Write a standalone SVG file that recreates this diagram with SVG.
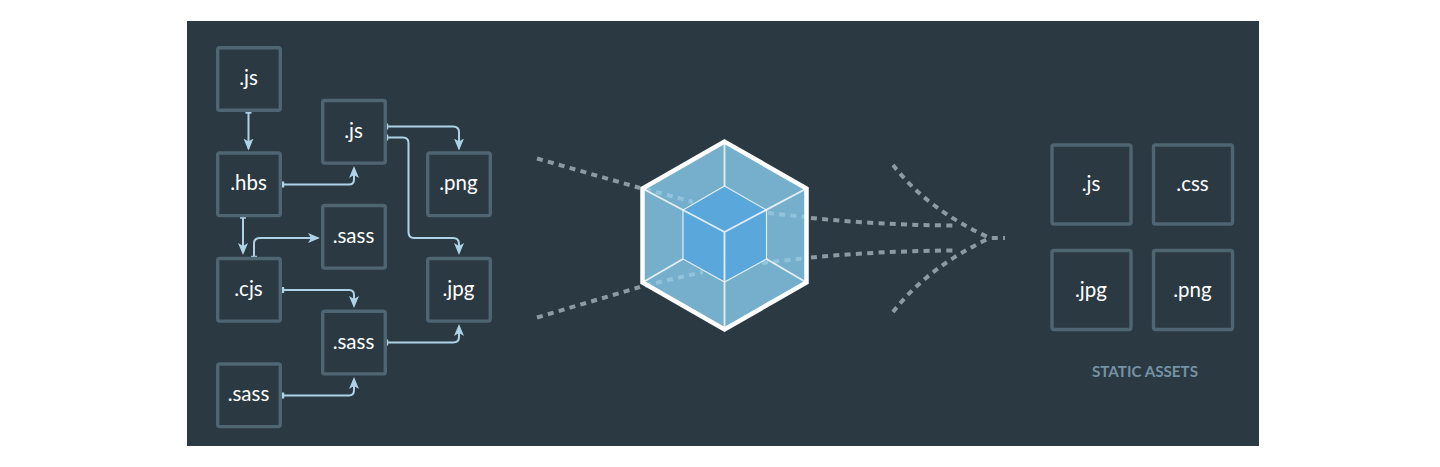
<svg xmlns="http://www.w3.org/2000/svg" width="1440" height="467" viewBox="0 0 1440 467">
<style>
.b{fill:none;stroke:#4f6572;stroke-width:3.4}
.t{fill:#fff;font-family:Lato,"Open Sans",sans-serif;font-size:20.500px;text-anchor:middle}
.c{fill:none;stroke:#afd3e6;stroke-width:2;marker-start:url(#bar);marker-end:url(#arr)}
.d{fill:none;stroke:#8b9ba2;stroke-width:4;stroke-dasharray:6 5.300}
.i{fill:none;stroke:#a8d5ea;stroke-opacity:.55;stroke-width:4;stroke-dasharray:6 5.300}
.e{fill:none;stroke:#fff;stroke-opacity:.8;stroke-width:1.800}
</style>
<defs>
<marker id="arr" markerUnits="userSpaceOnUse" markerWidth="14" markerHeight="12" refX="10" refY="5.500" orient="auto"><path d="M0 0.500L12 5.500L0 10.500L3 5.500Z" fill="#afd3e6"/></marker>
<marker id="bar" markerUnits="userSpaceOnUse" markerWidth="4" markerHeight="8" refX="1" refY="3.500" orient="auto"><rect x="0" y="0.500" width="2.200" height="6" fill="#afd3e6"/></marker>
</defs>
<rect width="1440" height="467" fill="#fff"/>
<rect x="187" y="21" width="1072" height="425" fill="#2b3a42"/>
<g id="connectors">
<path class="c" d="M248.500 112.500V148.500"/>
<path class="c" d="M283 184.500H349Q354 184.500 354 179.500V168"/>
<path class="c" d="M243 217.500V253"/>
<path class="c" d="M387 126.500H453Q459 126.500 459 132V148.500"/>
<path class="c" d="M387 137.500H403Q408.500 137.500 408.500 143V232Q408.500 238 414 238H453Q459 238 459 244V253"/>
<path class="c" d="M254 257V243.500Q254 238 260 238H318"/>
<path class="c" d="M283 290H349Q354 290 354 295V306"/>
<path class="c" d="M283 395.500H349Q354 395.500 354 390V379"/>
<path class="c" d="M387 342.500H453Q459 342.500 459 337V326"/>
</g>
<g id="flow-lines">
<path class="d" d="M537 158.500L640 188"/>
<path class="d" d="M537 317.500L640 287"/>
<path class="d" d="M893 165Q928 210 990 238H1005"/>
<path class="d" d="M893 312Q928 267 990 238"/>
<path class="d" d="M811 218Q880 225 953 225.500"/>
<path class="d" d="M811 257.500Q880 251 953 250.500"/>
</g>
<g id="cube">
<path d="M724.500 141.600L806.500 188.500V282.500L724.500 329.400L642.500 282.500V188.500Z" fill="#75afcc"/>
<path d="M724.500 186L766.500 210V259L724.500 282L683 259V210Z" fill="#5aa7dc"/>
<path class="i" d="M645 189L693 202M645 285.500L703 272M768 213L806 217M762 263L806 258"/>
<path d="M724.500 141.600L806.500 188.500V282.500L724.500 329.400L642.500 282.500V188.500Z" fill="none" stroke="#fff" stroke-width="4.500"/>
<path class="e" d="M724.500 141.600V186M806.500 188.500L724.500 232L642.500 188.500M724.500 232V329.400M642.500 282.500L683 259M806.500 282.500L766.500 259"/>
<path class="e" style="stroke-width:1.200" d="M724.500 186L766.500 210V259L724.500 282L683 259V210Z"/>
</g>
<g id="n1"><rect class="b" x="217.700" y="47.700" width="62.600" height="62.600" rx="2"/><text class="t" x="248.500" y="85">.js</text></g>
<g id="n2"><rect class="b" x="217.700" y="153" width="62.600" height="62.600" rx="2"/><text class="t" x="248.500" y="190">.hbs</text></g>
<g id="n3"><rect class="b" x="322.700" y="100.500" width="62.600" height="62.600" rx="2"/><text class="t" x="353.500" y="138">.js</text></g>
<g id="n4"><rect class="b" x="427.700" y="153" width="62.600" height="62.600" rx="2"/><text class="t" x="458.500" y="190">.png</text></g>
<g id="n5"><rect class="b" x="322.700" y="205.500" width="62.600" height="62.600" rx="2"/><text class="t" x="353.500" y="243">.sass</text></g>
<g id="n6"><rect class="b" x="217.700" y="258.500" width="62.600" height="62.600" rx="2"/><text class="t" x="248.500" y="296">.cjs</text></g>
<g id="n7"><rect class="b" x="427.700" y="258.500" width="62.600" height="62.600" rx="2"/><text class="t" x="458.500" y="296">.jpg</text></g>
<g id="n8"><rect class="b" x="322.700" y="311.300" width="62.600" height="62.600" rx="2"/><text class="t" x="353.500" y="349">.sass</text></g>
<g id="n9"><rect class="b" x="217.700" y="364" width="62.600" height="62.600" rx="2"/><text class="t" x="248.500" y="401">.sass</text></g>
<g id="a1"><rect class="b" x="1052" y="145" width="79" height="79" rx="2"/><text class="t" x="1091" y="191">.js</text></g>
<g id="a2"><rect class="b" x="1153.500" y="145" width="79" height="79" rx="2"/><text class="t" x="1192.500" y="191">.css</text></g>
<g id="a3"><rect class="b" x="1052" y="250.500" width="79" height="79" rx="2"/><text class="t" x="1091" y="297">.jpg</text></g>
<g id="a4"><rect class="b" x="1153.500" y="250.500" width="79" height="79" rx="2"/><text class="t" x="1192.500" y="297">.png</text></g>
<text x="1145" y="377" font-family="Lato,'Open Sans',sans-serif" font-size="15.200" font-weight="700" fill="#7592a5" text-anchor="middle">STATIC ASSETS</text>
</svg>
